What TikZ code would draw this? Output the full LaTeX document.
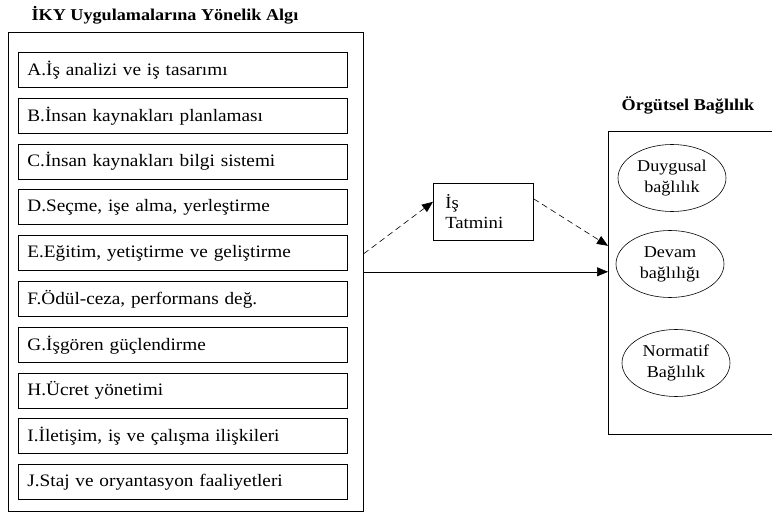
\documentclass[tikz,border=0pt]{standalone}
\usepackage{fontspec}
\setmainfont{Liberation Serif}[FakeStretch=1.1]
\usepackage{tikz}
\usetikzlibrary{arrows.meta,shapes.geometric}
\usetikzlibrary{positioning}

\begin{document}
\begin{tikzpicture}[x=1pt, y=-1pt,
    outer/.style = {draw, semithick, inner sep=0pt, anchor=north west},
    item/.style = {draw, thick, minimum width=329pt, minimum height=35pt,
      text width=311pt, align=left, inner sep=0pt, font=\fontsize{17.5}{19}\selectfont},
    factor/.style = {ellipse, draw, semithick, minimum width=108pt, minimum height=67pt,
      align=center, inner sep=0pt, font=\fontsize{16.5}{21}\selectfont},
    heading/.style = {font=\bfseries\fontsize{16.5}{18}\selectfont},
    link/.style = {-{Triangle[length=11pt,width=9pt]}, semithick}]
  \useasboundingbox (0,0) rectangle (772,516);
  \clip (0,0) rectangle (772,516);
  % left group
  \node[heading] (title1) at (165,15) {İKY Uygulamalarına Yönelik Algı};
  \node[outer, minimum width=355pt, minimum height=479pt] (algi) at (8,32) {};
  \node[item, anchor=north west] (a) at (18,52) {A.İş analizi ve iş tasarımı};
  \node[item, below=10pt of a] (b) {B.İnsan kaynakları planlaması};
  \node[item, below=10pt of b] (c) {C.İnsan kaynakları bilgi sistemi};
  \node[item, below=10pt of c] (d) {D.Seçme, işe alma, yerleştirme};
  \node[item, below=10pt of d] (e) {E.Eğitim, yetiştirme ve geliştirme};
  \node[item, below=10pt of e] (f) {F.Ödül-ceza, performans değ.};
  \node[item, below=10pt of f] (g) {G.İşgören güçlendirme};
  \node[item, below=10pt of g] (h) {H.Ücret yönetimi};
  \node[item, below=10pt of h] (i) {I.İletişim, iş ve çalışma ilişkileri};
  \node[item, below=10pt of i] (j) {J.Staj ve oryantasyon faaliyetleri};
  % mediator
  \node[draw, semithick, anchor=north west, minimum width=100pt, minimum height=57pt,
    text width=76pt, align=left, inner sep=0pt,
    font=\fontsize{17}{20}\selectfont] (tatmin) at (433,183) {İş\\Tatmini};
  % right group
  \node[heading] (title2) at (688,105) {Örgütsel Bağlılık};
  \node[outer, minimum width=190pt, minimum height=303pt] (baglilik) at (608,131) {};
  \node[factor] (duygusal) at (672,178) {Duygusal\\bağlılık};
  \node[factor] (devam) at (670,264) {Devam\\bağlılığı};
  \node[factor] (normatif) at (676,363) {Normatif\\Bağlılık};
  % connectors
  \draw[link, dash pattern=on 6pt off 4pt] ([yshift=18pt]algi.east) -- ([yshift=10pt]tatmin.west);
  \draw[link, dash pattern=on 6pt off 4pt] ([yshift=13pt]tatmin.east) -- ([yshift=37pt]baglilik.west);
  \draw[link] (algi.east) -- (algi.east -| baglilik.west);
\end{tikzpicture}
\end{document}
